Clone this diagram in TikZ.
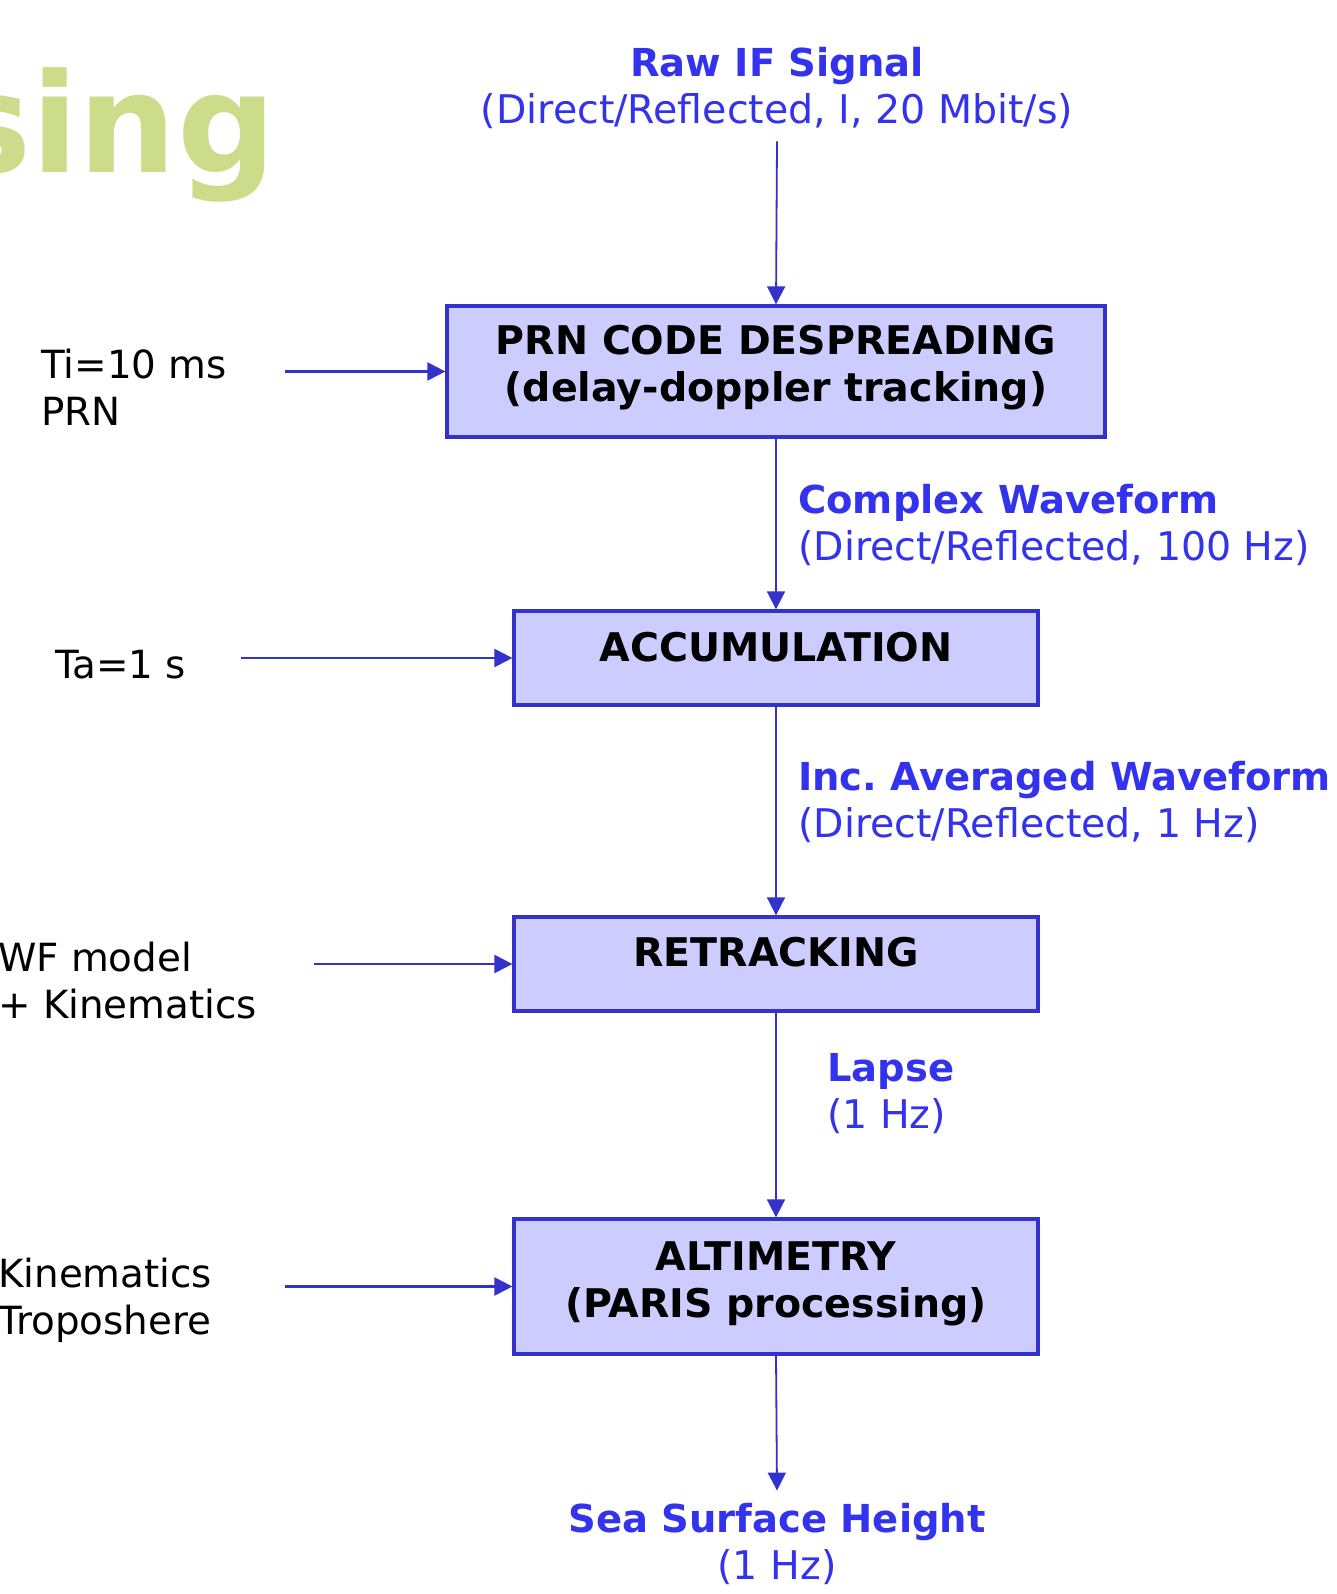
\documentclass[tikz,border=0pt]{standalone}
\usepackage{fontspec}
\setmainfont{DejaVu Sans}
\usetikzlibrary{arrows.meta}

\definecolor{flowblue}{RGB}{51,51,204}
\definecolor{labelblue}{RGB}{51,51,238}
\definecolor{boxfill}{RGB}{204,204,255}
\definecolor{titlegreen}{RGB}{205,220,138}

\newcommand{\signame}[1]{{\fontsize{38.5}{47}\selectfont\bfseries #1}}

\begin{document}
\begin{tikzpicture}[x=1pt, y=-1pt,
    every node/.style={inner sep=0pt, font=\fontsize{39.5}{47}\selectfont},
    procbox/.style={draw=flowblue, fill=boxfill, line width=3.3pt, minimum width=524pt},
    boxtext/.style={font=\fontsize{39.5}{47}\selectfont\bfseries, align=center, anchor=base},
    sigtext/.style={text=labelblue, align=center, anchor=base},
    ratetext/.style={text=labelblue, align=left, anchor=base west},
    sidetext/.style={align=left, anchor=base west, font=\fontsize{38.8}{47}\selectfont},
    flow/.style={draw=flowblue, line width=1.8pt, -{Triangle[length=18pt,width=18pt]}},
    feed/.style={draw=flowblue, line width=2.4pt, -{Triangle[length=18pt,width=18pt]}}]
    \useasboundingbox (0,0) rectangle (1336,1594);
    \clip (0,0) rectangle (1336,1594);

    % title fragment
    \node[font=\fontsize{138}{140}\selectfont\bfseries, text=titlegreen, anchor=base east] (title) at (276,173) {sing};

    % processing chain
    \node[procbox, minimum width=658pt, minimum height=131pt] (despread) at (776,371.5) {};
    \node[procbox, minimum height=94pt] (accum) at (776,658) {};
    \node[procbox, minimum height=94pt] (retrack) at (776,964) {};
    \node[procbox, minimum height=135pt] (altim) at (776,1286.5) {};

    % (base of a two-line node is its last line)
    \node[boxtext] (despreadtxt) at (776,401) {PRN CODE DESPREADING\\(delay-doppler tracking)};
    \node[boxtext] (accumtxt) at (776,661) {ACCUMULATION};
    \node[boxtext] (retracktxt) at (776,966) {RETRACKING};
    \node[boxtext] (altimtxt) at (776,1317) {ALTIMETRY\\(PARIS processing)};

    % signals
    \node[sigtext] (rawsig) at (777,124) {\signame{Raw IF Signal}\\(Direct/Reflected, I, 20 Mbit/s)};
    \node[ratetext] (cplxwf) at (798,560) {\signame{Complex Waveform}\\(Direct/Reflected, 100 Hz)};
    \node[ratetext] (avgwf) at (798,837) {\signame{Inc.\ Averaged Waveform}\\(Direct/Reflected, 1 Hz)};
    \node[ratetext] (lapse) at (827,1128) {\signame{Lapse}\\(1 Hz)};
    \node[sigtext] (ssh) at (777,1579) {\signame{Sea Surface Height}\\(1 Hz)};

    % inputs
    \node[sidetext] (tiprn) at (41,425) {Ti=10 ms\\PRN};
    \node[sidetext] (ta) at (55,678) {Ta=1 s};
    \node[sidetext] (wfmodel) at (-2,1018) {WF model\\+ Kinematics};
    \node[sidetext] (kintropo) at (-2,1334) {Kinematics\\Troposhere};

    \coordinate (tiin) at (285,371.5);
    \coordinate (tain) at (241,658);
    \coordinate (wfin) at (314,964);
    \coordinate (kinin) at (285,1286.5);

    \draw[flow] ([yshift=-12pt]rawsig.south) -- (despread.north);
    \draw[flow] (despread) -- (accum);
    \draw[flow] (accum) -- (retrack);
    \draw[flow] (retrack) -- (altim);
    \draw[flow] (altim.south) -- ([yshift=12pt]ssh.north);

    \draw[feed] (tiin) -- (despread.west);
    \draw[feed] (tain) -- (accum.west);
    \draw[feed] (wfin) -- (retrack.west);
    \draw[feed] (kinin) -- (altim.west);
\end{tikzpicture}
\end{document}
